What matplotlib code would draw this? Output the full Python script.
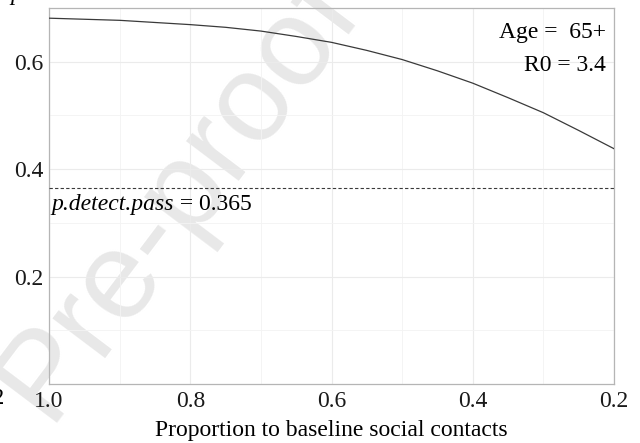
import matplotlib
matplotlib.use("Agg")
import matplotlib.pyplot as plt
from matplotlib.ticker import FixedLocator
from matplotlib.transforms import blended_transform_factory

# proportion of baseline contacts vs probability, age group 65+
contacts = [1.0, 0.95, 0.9, 0.85, 0.8, 0.75, 0.7, 0.65, 0.6, 0.55, 0.5, 0.45, 0.4, 0.35, 0.3, 0.25, 0.2]
prob = [0.681, 0.679, 0.677, 0.673, 0.669, 0.664, 0.657, 0.647, 0.636, 0.621,
        0.604, 0.583, 0.560, 0.533, 0.505, 0.472, 0.438]
p_detect_pass = 0.365
age_group = "65+"
r0 = 3.4

plt.rcParams['font.family'] = ['Liberation Serif']

FS = 17

fig = plt.figure(figsize=(6.4, 4.43), dpi=100)
ax = fig.add_axes([0.0766, 0.1332, 0.8828, 0.8488])

ax.plot(contacts, prob, color='#3a3a3a', lw=0.9, zorder=3)
ax.axhline(p_detect_pass, color='#3a3a3a', lw=0.8, ls=(0, (3, 2)), zorder=3)

ax.set_xlim(1.0, 0.2)
ax.set_ylim(0.0, 0.7)
ax.set_xticks([1.0, 0.8, 0.6, 0.4, 0.2])
ax.set_xticklabels(['1.0', '0.8', '0.6', '0.4', '0.2'])
ax.set_yticks([0.2, 0.4, 0.6])
ax.set_yticklabels(['0.2', '0.4', '0.6'])
ax.xaxis.set_minor_locator(FixedLocator([0.9, 0.7, 0.5, 0.3]))
ax.yaxis.set_minor_locator(FixedLocator([0.1, 0.3, 0.5]))
ax.tick_params(which='both', length=0, labelsize=FS, colors='#1a1a1a')
ax.tick_params(axis='x', pad=5)
ax.tick_params(axis='y', pad=4)

ax.grid(which='major', color='#ebebeb', lw=0.8)
ax.grid(which='minor', color='#f3f3f3', lw=0.6)
ax.set_axisbelow(True)
for s in ax.spines.values():
    s.set_color('#b5b5b5')
    s.set_linewidth(0.9)

ax.set_xlabel("Proportion to baseline social contacts", fontsize=FS, labelpad=6)

# threshold label: italic name followed by upright value
lab_tr = blended_transform_factory(ax.transAxes, ax.transData)
t1 = ax.text(0.004, p_detect_pass - 0.042, "p.detect.pass", transform=lab_tr,
             fontsize=FS, style='italic', ha='left', va='baseline', zorder=4)
ax.annotate(f" = {p_detect_pass}", xy=(1, 0), xycoords=t1, fontsize=FS,
            ha='left', va='bottom', zorder=4)

ax.text(0.985, 0.935, f"Age =  {age_group}", transform=ax.transAxes,
        fontsize=FS, ha='right', va='center')
ax.text(0.985, 0.846, f"R0 = {r0}", transform=ax.transAxes,
        fontsize=FS, ha='right', va='center')

# watermark, kept underneath the axis labels
ax.text(0.278, 0.56, "Pre-proof", transform=fig.transFigure, family='Liberation Sans',
        fontsize=90, color='#e8e8e8', rotation=53, ha='center', va='center',
        zorder=0.2, clip_on=False)

# edges of neighbouring panels
fig.text(0.016, 1.012, "p", fontsize=FS, style='italic', ha='left', va='center')
fig.text(0.007, 0.101, "0.2", fontsize=FS, ha='right', va='center')

fig.savefig("out.png", dpi=100)
